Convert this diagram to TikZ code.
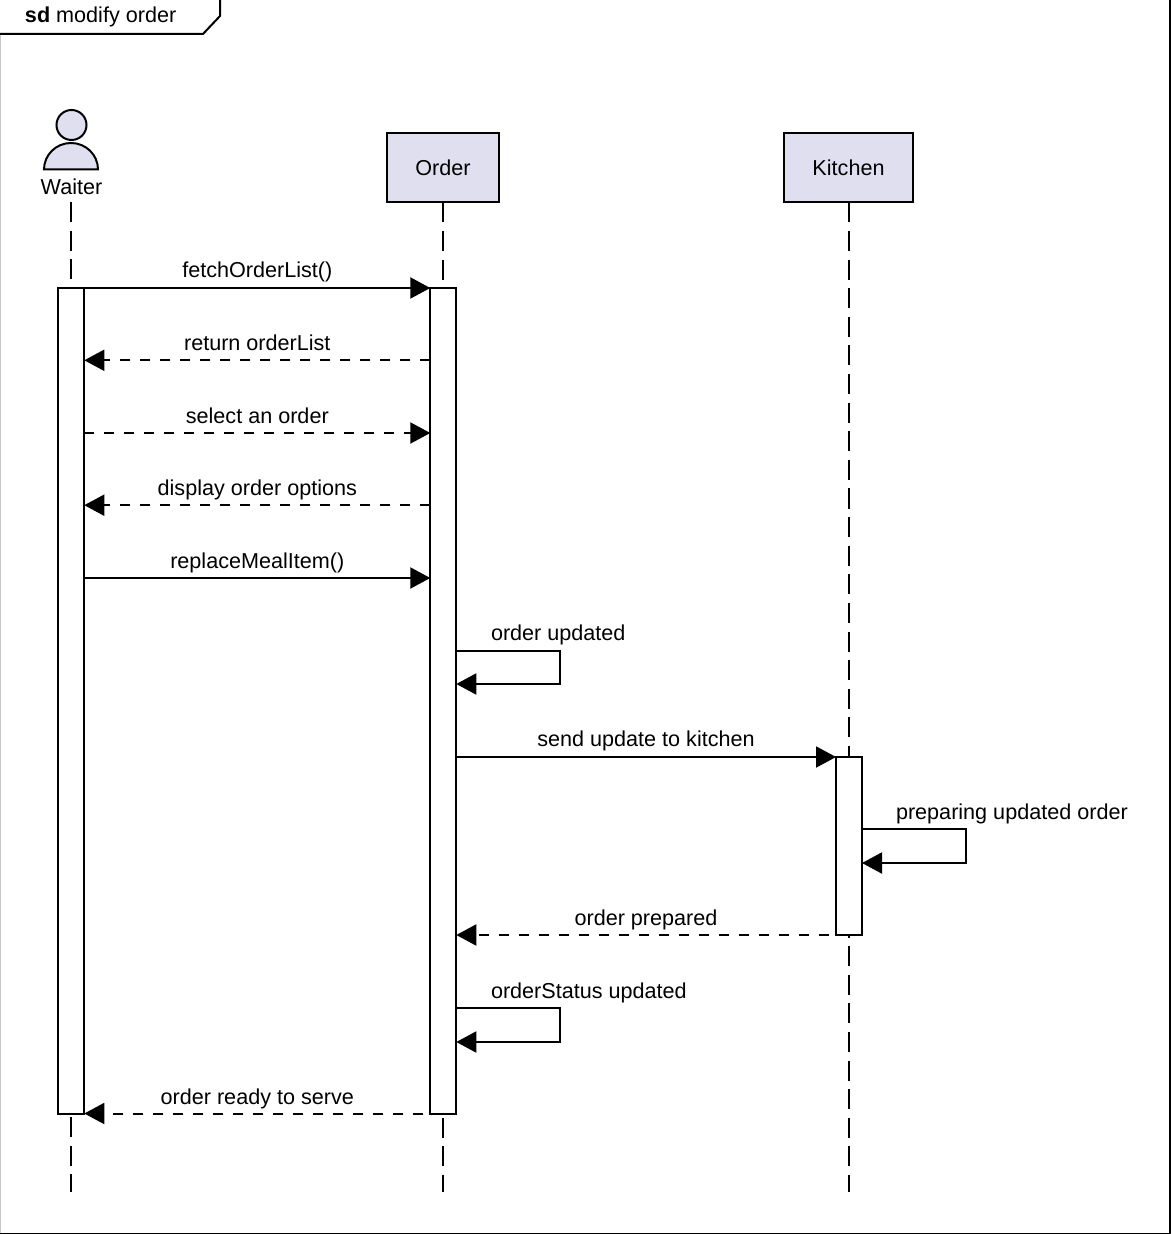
\documentclass[tikz,border=0pt]{standalone}
\usepackage{fontspec}
\setmainfont{Liberation Sans}
\usetikzlibrary{arrows.meta}
\definecolor{lilac}{RGB}{224,223,240}
\tikzset{
  x=0.5pt,y=-0.5pt,
  every node/.style={font=\fontsize{10.8pt}{13pt}\selectfont,text=black,inner sep=0pt,outer sep=0pt},
  ln/.style={line width=1pt,draw=black},
  frameline/.style={ln},
  lifeline/.style={ln,dash pattern=on 10pt off 4.3pt},
  bar/.style={ln,fill=white,minimum width=13pt},
  headbox/.style={ln,fill=lilac,minimum height=34.75pt},
  msg/.style={ln,-{Triangle[length=10pt,width=10.5pt]}},
  ret/.style={msg,dash pattern=on 5pt off 5pt},
  lbl/.style={anchor=base},
  lbll/.style={anchor=base west},
}
\begin{document}
\begin{tikzpicture}
\useasboundingbox (0,0) rectangle (1171,1234);
% frame
\coordinate (f1) at (-3,-2);
\coordinate (f2) at (1170,1233.5);
\draw[frameline] (f1) rectangle (f2);
\coordinate (e1) at (0.6,34);
\coordinate (e2) at (0.6,1233);
\draw[line width=0.6pt,draw=black!22] (e1) -- (e2);
\coordinate (t1) at (220,-2);
\coordinate (t2) at (220,16);
\coordinate (t3) at (203,34);
\coordinate (t4) at (-3,34);
\draw[frameline] (t1) -- (t2) -- (t3) -- (t4);
\node[lbll] (sd) at (25,23) {\textbf{sd} modify order};
% lifeline anchors
\coordinate (wtop) at (71.3,202);
\coordinate (wend) at (71.3,1192);
\coordinate (otop) at (443,202.5);
\coordinate (oend) at (443,1192);
\coordinate (ktop) at (848.5,202.5);
\coordinate (kend) at (848.5,1192);
\draw[lifeline] (wtop) -- (wend);
\draw[lifeline] (otop) -- (oend);
\draw[lifeline] (ktop) -- (kend);
% actor
\node[circle,ln,fill=lilac,minimum size=15pt] (head) at (71.5,125) {};
\coordinate (bl) at (44,169.5);
\draw[ln,fill=lilac] (bl) arc[start angle=180,end angle=0,x radius=13.5pt,y radius=13.25pt] -- cycle;
\node[anchor=base] (waiter) at (71.5,195) {Waiter};
% heads
\node[headbox,minimum width=56pt] (order) at (443,167.75) {};
\node[lbl] (orderl) at (443,175.5) {Order};
\node[headbox,minimum width=64.5pt] (kitchen) at (848.5,167.75) {};
\node[lbl] (kitchenl) at (848.5,175.5) {Kitchen};
% bars
\node[bar,minimum height=412.75pt] (wbar) at (71.3,700.75) {};
\node[bar,minimum height=412.75pt] (obar) at (443.3,700.75) {};
\node[bar,minimum height=89pt] (kbar) at (849,846) {};
% message levels
\coordinate (m2) at (0,360.3);
\coordinate (m3) at (0,433);
\coordinate (m4) at (0,505.2);
\coordinate (m5) at (0,578);
\coordinate (m6) at (0,650.7);
\coordinate (m6b) at (0,684);
\coordinate (m7) at (0,757);
\coordinate (m8) at (0,829.3);
\coordinate (m8b) at (0,863);
\coordinate (m10) at (0,1008);
\coordinate (m10b) at (0,1042);
\coordinate (ox) at (560,0);
\coordinate (kx) at (966,0);
% messages
\draw[msg] (wbar.north) -- (obar.north west);
\node[lbl] (l1) at (257.3,277.5) {fetchOrderList()};
\draw[ret] (obar.west |- m2) -- (wbar.east |- m2);
\node[lbl] (l2) at (257.3,350.7) {return orderList};
\draw[ret] (wbar.east |- m3) -- (obar.west |- m3);
\node[lbl] (l3) at (257.3,423.5) {select an order};
\draw[ret] (obar.west |- m4) -- (wbar.east |- m4);
\node[lbl] (l4) at (257.3,495) {display order options};
\draw[msg] (wbar.east |- m5) -- (obar.west |- m5);
\node[lbl] (l5) at (257.3,568) {replaceMealItem()};
\draw[msg] (obar.east |- m6) -- (ox |- m6) -- (ox |- m6b) -- (obar.east |- m6b);
\node[lbll] (l6) at (491,640) {order updated};
\draw[msg] (obar.east |- m7) -- (kbar.north west);
\node[lbl] (l7) at (646,746) {send update to kitchen};
\draw[msg] (kbar.east |- m8) -- (kx |- m8) -- (kx |- m8b) -- (kbar.east |- m8b);
\node[lbll] (l8) at (896,819) {preparing updated order};
\draw[ret] (kbar.south) -- (obar.east |- kbar.south);
\node[lbl] (l9) at (646,925) {order prepared};
\draw[msg] (obar.east |- m10) -- (ox |- m10) -- (ox |- m10b) -- (obar.east |- m10b);
\node[lbll] (l10) at (491,998) {orderStatus updated};
\draw[ret] (obar.south) -- (wbar.south east);
\node[lbl] (l11) at (257.3,1104) {order ready to serve};
\end{tikzpicture}
\end{document}
